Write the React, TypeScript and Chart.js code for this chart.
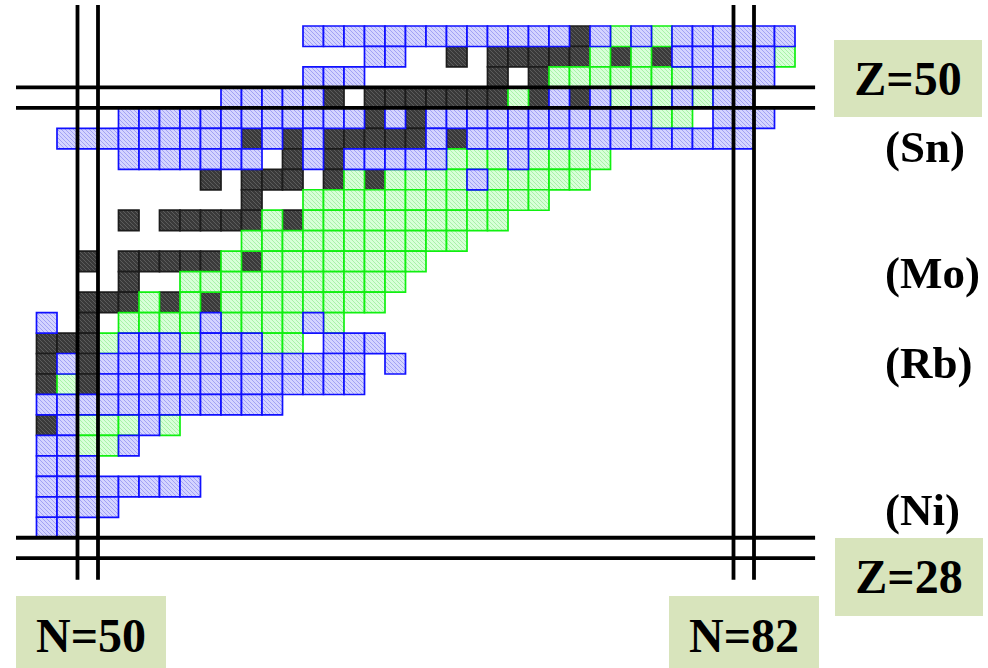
import React, { useEffect, useRef } from "react";
import { Chart, registerables } from "chart.js";

Chart.register(...registerables);

// ---- data ----
// First neutron number of each row string (column 0)
const N_FIRST = 48;
// Proton numbers of the rows, top to bottom
const Z_ROWS = [53, 52, 51, 50, 49, 48, 47, 46, 45, 44, 43, 42, 41, 40, 39, 38, 37, 36, 35, 34, 33, 32, 31, 30, 29];
// One string per Z row, one char per N (b = blue, g = green, k = black, . = none)
const CELL_ROWS = [
  "............." + "bbbbbbbbbbbbb" + "kbgbg" + "bbbbbb",
  "................" + "bb" + ".." + "k" + "." + "kkkkk" + "gkgk" + "bbbbb" + "g",
  "............." + "bbb" + "......" + "k" + "." + "k" + "ggggggg" + "bbbb" + ".",
  "........." + "bbbbb" + "k" + "." + "kkkkkkk" + "gkbkbgbgbg" + "bb" + "..",
  "...." + "bbbbbbbbbbbb" + "kbk" + "bbbbbbbbbbb" + "gg" + "." + "bbb" + ".",
  "." + "bbbbbbbbb" + "kbkb" + "kkkkk" + "b" + "k" + "bbbbbbbbbbbbbb" + "..",
  "...." + "bbbbbbb" + "." + "kbk" + "bbbbb" + "ggg" + "b" + "gggg" + ".........",
  "........" + "k" + "." + "kkk" + "." + "kgk" + "gggg" + "b" + "ggggg" + "..........",
  ".........." + "k" + ".." + "gggggggggggg" + "............",
  "...." + "k" + "." + "kkkkk" + "gk" + "gggggggggg" + "..............",
  ".........." + "ggggggggggg" + "................",
  ".." + "k" + "." + "kkkkk" + "gk" + "gggggggg" + "..................",
  "...." + "k" + ".." + "ggggggggggg" + "...................",
  ".." + "kkk" + "gkgk" + "gggggggg" + "....................",
  "b.k." + "gggg" + "b" + "gggg" + "bg" + "......................",
  "kkk" + "g" + "bbb" + "g" + "bbb" + "gg" + "." + "bbb" + "....................",
  "kbk" + "bbbbbbbbbbbbb" + "." + "b" + "...................",
  "kgk" + "bbbbbbbbbbbbb" + ".....................",
  "bbbbbbbbbbbb" + ".........................",
  "kbgggbg" + "..............................",
  "bbggb" + "................................",
  "bbb" + "..................................",
  "bbbbbbbb" + ".............................",
  "bbbb" + ".................................",
  "bb" + "...................................",
];
// Magic numbers drawn as double lines
const MAGIC_N = [50, 82];
const MAGIC_Z = [50, 28];
// Extents of the magic-number lines (in N / Z units)
const V_LINE_Z = [54.52, 26.45];
const H_LINE_N = [46.5, 85.48];
// Label boxes and element names
const BOX_LABELS = ["Z=50", "Z=28", "N=50", "N=82"];
const ELEMENT_LABELS = ["(Sn)", "(Mo)", "(Rb)", "(Ni)"];

// ---- layout (scale ranges chosen to fit the window) ----
const CELL_W = 20.5;
const CELL_H = 20.47;
const X_MIN = 47.5 - 36.5 / CELL_W;
const X_MAX = X_MIN + 988 / CELL_W;
const Y_MAX = 53.5 + 26 / CELL_H;
const Y_MIN = Y_MAX - 668 / CELL_H;

function makePattern(bg: string, fg: string): CanvasPattern | string {
  const c = document.createElement("canvas");
  c.width = 4;
  c.height = 4;
  const g = c.getContext("2d");
  if (!g) return bg;
  g.fillStyle = bg;
  g.fillRect(0, 0, 4, 4);
  g.strokeStyle = fg;
  g.lineWidth = 1;
  g.beginPath();
  g.moveTo(0, 0);
  g.lineTo(4, 4);
  g.moveTo(-1, 3);
  g.lineTo(1, 5);
  g.moveTo(3, -1);
  g.lineTo(5, 1);
  g.stroke();
  const p = g.createPattern(c, "repeat");
  return p || bg;
}

function cellsOf(kind: string) {
  const pts: { x: number; y: number }[] = [];
  CELL_ROWS.forEach((row, r) => {
    for (let c = 0; c < row.length; c++) {
      if (row[c] === kind) pts.push({ x: N_FIRST + c, y: Z_ROWS[r] });
    }
  });
  return pts;
}

const serif = '"Liberation Serif", "Times New Roman", Times, serif';

export default function App() {
  const ref = useRef<HTMLCanvasElement | null>(null);

  useEffect(() => {
    if (!ref.current) return;
    const radius = CELL_W / (2 * Math.SQRT1_2);
    const cellSet = (kind: string, bg: any, border: string) => ({
      data: cellsOf(kind),
      pointStyle: "rect" as const,
      pointRadius: radius,
      pointHoverRadius: radius,
      pointBackgroundColor: bg,
      pointBorderColor: border,
      pointBorderWidth: 1.7,
      pointHoverBorderWidth: 1.7,
      showLine: false,
      order: 2,
    });
    const lineSets: any[] = [];
    MAGIC_N.forEach((n) => {
      [n - 0.5, n + 0.5].forEach((x) => {
        lineSets.push({
          data: [
            { x, y: V_LINE_Z[0] },
            { x, y: V_LINE_Z[1] },
          ],
          showLine: true,
          borderColor: "#000",
          borderWidth: 3.8,
          pointRadius: 0,
          pointHoverRadius: 0,
          order: 0,
        });
      });
    });
    MAGIC_Z.forEach((z) => {
      [z - 0.5, z + 0.5].forEach((y) => {
        lineSets.push({
          data: [
            { x: H_LINE_N[0], y },
            { x: H_LINE_N[1], y },
          ],
          showLine: true,
          borderColor: "#000",
          borderWidth: 3.8,
          pointRadius: 0,
          pointHoverRadius: 0,
          order: 0,
        });
      });
    });
    const chart = new Chart(ref.current, {
      type: "scatter",
      data: {
        datasets: [
          ...lineSets,
          cellSet("b", makePattern("#d4d4ff", "#a2a2f4"), "#1010ff"),
          cellSet("g", makePattern("#d8ffd8", "#a8f2a8"), "#10f010"),
          cellSet("k", makePattern("#3a3a3a", "#5c5c5c"), "#1c1c1c"),
        ],
      },
      options: {
        animation: false,
        responsive: false,
        events: [],
        layout: { padding: 0, autoPadding: false },
        plugins: { legend: { display: false }, tooltip: { enabled: false } },
        scales: {
          x: { type: "linear", display: false, min: X_MIN, max: X_MAX },
          y: { type: "linear", display: false, min: Y_MIN, max: Y_MAX },
        },
      },
    });
    return () => chart.destroy();
  }, []);

  const boxStyle = (left: number, top: number, w: number, h: number, padTop = 0): React.CSSProperties => ({
    position: "absolute",
    left,
    top,
    width: w,
    height: h,
    background: "#d8e4bc",
    display: "flex",
    alignItems: "center",
    justifyContent: "center",
    boxSizing: "border-box",
    paddingTop: padTop,
    fontFamily: serif,
    fontWeight: "bold",
    fontSize: 48,
    lineHeight: 1,
    color: "#000",
  });
  const elStyle = (top: number): React.CSSProperties => ({
    position: "absolute",
    left: 885,
    top,
    fontFamily: serif,
    fontWeight: "bold",
    fontSize: 45,
    lineHeight: 1,
    color: "#000",
    whiteSpace: "nowrap",
  });

  return (
    <div style={{ position: "absolute", left: 0, top: 0, width: 988, height: 668, overflow: "hidden", background: "#fff" }}>
      <canvas ref={ref} width={988} height={668} style={{ position: "absolute", left: 0, top: 0, width: 988, height: 668 }} />
      <div style={boxStyle(834, 40, 148, 77)}>{BOX_LABELS[0]}</div>
      <div style={boxStyle(835, 538, 148, 78)}>{BOX_LABELS[1]}</div>
      <div style={boxStyle(16, 596, 150, 72, 8)}>{BOX_LABELS[2]}</div>
      <div style={boxStyle(669, 596, 150, 72, 8)}>{BOX_LABELS[3]}</div>
      <div style={elStyle(125)}>{ELEMENT_LABELS[0]}</div>
      <div style={elStyle(251)}>{ELEMENT_LABELS[1]}</div>
      <div style={elStyle(341)}>{ELEMENT_LABELS[2]}</div>
      <div style={elStyle(488)}>{ELEMENT_LABELS[3]}</div>
    </div>
  );
}
